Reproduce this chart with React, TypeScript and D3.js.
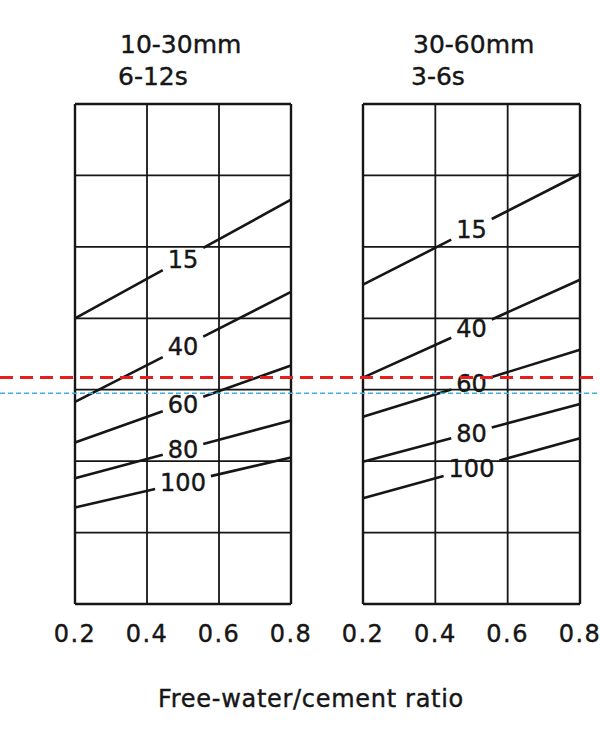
import React from 'react';
import * as d3 from 'd3';

// free-water/cement ratio ticks and the fine-aggregate grid levels (%)
const xTicks = [0.2, 0.4, 0.6, 0.8];
const yGrid = [10, 20, 30, 40, 50, 60, 70, 80];

// percentage passing 600um sieve, one line per value
const sieveLabels = ['15', '40', '60', '80', '100'];

// panel 1: slump 10-30mm, vebe 6-12s (value at w/c 0.2 and at 0.8)
const leftAt02 = [50.0, 38.3, 32.6, 27.6, 23.5];
const leftAt08 = [66.6, 53.7, 43.4, 35.7, 30.5];

// panel 2: slump 30-60mm, vebe 3-6s
const rightAt02 = [54.7, 41.7, 36.2, 29.9, 24.8];
const rightAt08 = [70.2, 55.4, 45.6, 38.0, 33.2];

// overlay reading lines
const redLevel = 41.7;
const cyanLevel = 39.5;

const panels = [
  { key: 'a', title: ['10-30mm', '6-12s'], start: leftAt02, end: leftAt08, x0: 75, x1: 291, titleX: 120 },
  { key: 'b', title: ['30-60mm', '3-6s'], start: rightAt02, end: rightAt08, x0: 363, x1: 580, titleX: 413 },
];

const W = 600;
const H = 750;
const top = 104;
const bottom = 604;
const font = '"DejaVu Sans", sans-serif';
const ink = '#161616';
const textStroke = { stroke: ink, strokeWidth: 0.4 };

const y = d3.scaleLinear().domain([10, 80]).range([bottom, top]);

const Panel = ({ p }) => {
  const x = d3.scaleLinear().domain([0.2, 0.8]).range([p.x0, p.x1]);
  const labelX = 0.5;

  return (
    <g>
      {/* titles */}
      <text x={p.titleX} y={53} fontSize={25} fill={ink} {...textStroke}>{p.title[0]}</text>
      <text x={p.titleX - 2} y={85} fontSize={25} fill={ink} {...textStroke}>{p.title[1]}</text>

      {/* grid */}
      {yGrid.map(v => (
        <line key={'h' + v} x1={x(0.2)} x2={x(0.8)} y1={y(v)} y2={y(v)}
          stroke={ink} strokeWidth={v === 10 || v === 80 ? 2.4 : 1.8} />
      ))}
      {xTicks.map(t => (
        <line key={'v' + t} x1={x(t)} x2={x(t)} y1={y(10)} y2={y(80)}
          stroke={ink} strokeWidth={t === 0.2 || t === 0.8 ? 2.4 : 1.8} />
      ))}

      {/* tick labels */}
      {xTicks.map(t => (
        <text key={'t' + t} x={x(t)} y={642} fontSize={24} letterSpacing={1.5}
          textAnchor="middle" fill={ink} {...textStroke}>{t.toFixed(1)}</text>
      ))}

      {/* sieve lines with a gap for the label */}
      {sieveLabels.map((lab, i) => {
        const px0 = x(0.2), py0 = y(p.start[i]);
        const px1 = x(0.8), py1 = y(p.end[i]);
        const lineY = (px) => py0 + (py1 - py0) * (px - px0) / (px1 - px0);
        const cx = x(labelX);
        const hw = lab.length * 0.636 * 24 / 2 + 5;
        return (
          <g key={lab}>
            <line x1={px0} y1={py0} x2={cx - hw} y2={lineY(cx - hw)} stroke={ink} strokeWidth={2.6} />
            <line x1={cx + hw} y1={lineY(cx + hw)} x2={px1} y2={py1} stroke={ink} strokeWidth={2.6} />
            <text x={cx} y={lineY(cx)} dy="0.36em" fontSize={24} textAnchor="middle" fill={ink}
              {...textStroke}>{lab}</text>
          </g>
        );
      })}
    </g>
  );
};

export default function App() {
  return (
    <svg width={W} height={H} style={{ position: 'absolute', left: 0, top: 0, background: '#fff' }}
      fontFamily={font}>
      <rect width={W} height={H} fill="#fff" />
      {panels.map(p => <Panel key={p.key} p={p} />)}

      <text x={311} y={707} fontSize={24} letterSpacing={0.7} textAnchor="middle" fill={ink} {...textStroke}>
        Free-water/cement ratio
      </text>

      {/* overlay reading lines */}
      <line x1={0} x2={W} y1={y(redLevel)} y2={y(redLevel)} stroke="#e5201c" strokeWidth={3}
        strokeDasharray="13 7" />
      <line x1={0} x2={W} y1={y(cyanLevel)} y2={y(cyanLevel)} stroke="#3cb2d6" strokeWidth={1.5}
        strokeDasharray="5 3" />
    </svg>
  );
}
